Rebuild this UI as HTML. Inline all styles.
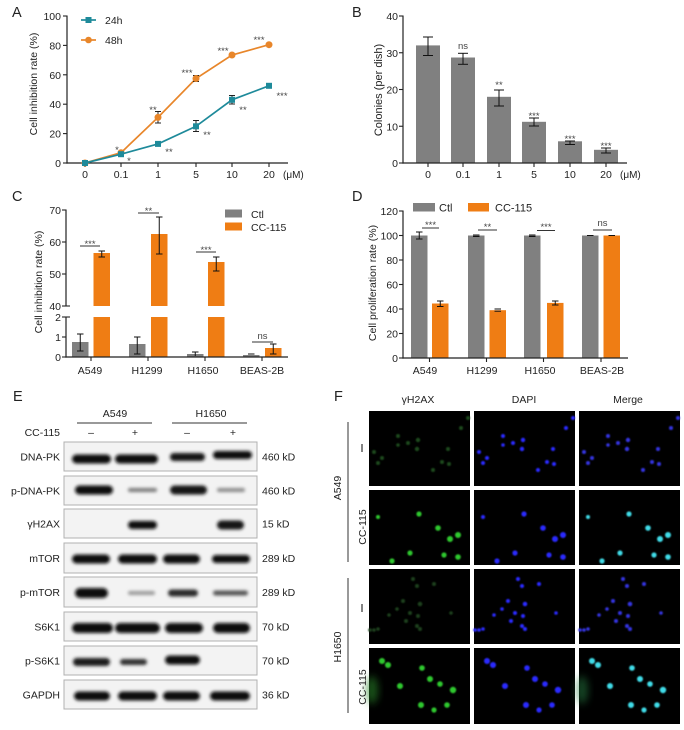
<!DOCTYPE html>
<html><head><meta charset="utf-8"><style>
html,body{margin:0;padding:0;background:#fff;}
svg{display:block;}
text{font-family:"Liberation Sans","DejaVu Sans",sans-serif;}
</style></head><body>
<svg width="684" height="730" viewBox="0 0 684 730" xmlns="http://www.w3.org/2000/svg">
<defs>
<filter id="bl" x="-20%" y="-80%" width="140%" height="260%"><feGaussianBlur stdDeviation="1.5"/></filter>
<filter id="db" x="-20%" y="-20%" width="140%" height="140%"><feGaussianBlur stdDeviation="0.9"/></filter>
<filter id="gl" x="-50%" y="-50%" width="200%" height="200%"><feGaussianBlur stdDeviation="4"/></filter>
<g id="g1"><circle cx="99" cy="7" r="2"/><circle cx="92" cy="17" r="2"/><circle cx="29" cy="25" r="2"/><circle cx="39" cy="32" r="2"/><circle cx="49" cy="29" r="2.2"/><circle cx="48" cy="38" r="2.2"/><circle cx="5" cy="41" r="2"/><circle cx="13" cy="47" r="2"/><circle cx="9" cy="52" r="2"/><circle cx="29" cy="34" r="1.8"/><circle cx="79" cy="38" r="2"/><circle cx="73" cy="51" r="2"/><circle cx="80" cy="53" r="2"/><circle cx="64" cy="59" r="2"/></g>
<g id="g2"><circle cx="9" cy="27" r="2"/><circle cx="50" cy="24" r="2.6"/><circle cx="69" cy="38" r="2.8"/><circle cx="89" cy="45" r="3"/><circle cx="81" cy="49" r="3"/><circle cx="41" cy="63" r="2.6"/><circle cx="75" cy="65" r="2.6"/><circle cx="89" cy="67" r="2.8"/><circle cx="23" cy="71" r="2.6"/></g>
<g id="g3"><circle cx="44" cy="10" r="2"/><circle cx="48" cy="17" r="2"/><circle cx="65" cy="15" r="2"/><circle cx="34" cy="32" r="2"/><circle cx="51" cy="35" r="2.3"/><circle cx="28" cy="40" r="1.8"/><circle cx="20" cy="46" r="1.8"/><circle cx="41" cy="44" r="2"/><circle cx="37" cy="52" r="2"/><circle cx="49" cy="47" r="2"/><circle cx="48" cy="57" r="2"/><circle cx="51" cy="60" r="2"/><circle cx="82" cy="44" r="1.8"/><circle cx="9" cy="60" r="1.8"/><circle cx="5" cy="61" r="1.8"/><circle cx="1" cy="61" r="1.8"/></g>
<g id="g4"><circle cx="13" cy="13" r="3"/><circle cx="19" cy="17" r="3"/><circle cx="53" cy="20" r="2.8"/><circle cx="31" cy="38" r="3"/><circle cx="61" cy="31" r="3"/><circle cx="71" cy="36" r="2.8"/><circle cx="84" cy="42" r="3.2"/><circle cx="52" cy="57" r="3"/><circle cx="65" cy="62" r="2.6"/><circle cx="78" cy="57" r="2.8"/></g>
</defs>

<!-- ============ PANEL A ============ -->
<g fill="#222" font-size="10.5">
<text x="12" y="17" font-size="14.5">A</text>
<line x1="67" y1="15.5" x2="67" y2="163.6" stroke="#222" stroke-width="1.2"/>
<line x1="66.4" y1="163" x2="288" y2="163" stroke="#222" stroke-width="1.2"/>
<g stroke="#222" stroke-width="1.1">
<line x1="63" y1="163" x2="67" y2="163"/><line x1="63" y1="133.6" x2="67" y2="133.6"/><line x1="63" y1="104.2" x2="67" y2="104.2"/><line x1="63" y1="74.8" x2="67" y2="74.8"/><line x1="63" y1="45.4" x2="67" y2="45.4"/><line x1="63" y1="16" x2="67" y2="16"/>
<line x1="85" y1="163" x2="85" y2="167"/><line x1="121" y1="163" x2="121" y2="167"/><line x1="158" y1="163" x2="158" y2="167"/><line x1="196" y1="163" x2="196" y2="167"/><line x1="232" y1="163" x2="232" y2="167"/><line x1="269" y1="163" x2="269" y2="167"/>
</g>
<g text-anchor="end"><text x="61" y="167">0</text><text x="61" y="137.6">20</text><text x="61" y="108.2">40</text><text x="61" y="78.8">60</text><text x="61" y="49.4">80</text><text x="61" y="20">100</text></g>
<g text-anchor="middle"><text x="85" y="178">0</text><text x="121" y="178">0.1</text><text x="158" y="178">1</text><text x="196" y="178">5</text><text x="232" y="178">10</text><text x="269" y="178">20</text></g>
<text x="283" y="178" font-size="10">(μM)</text>
<text transform="translate(37,84) rotate(-90)" text-anchor="middle">Cell inhibition rate (%)</text>
<!-- 48h -->
<polyline points="85,163 121,152.7 158,117.4 196,78.5 232,55 269,44.7" fill="none" stroke="#e8862a" stroke-width="1.7"/>
<g stroke="#222" stroke-width="1"><line x1="158" y1="111.5" x2="158" y2="123"/><line x1="155" y1="111.5" x2="161" y2="111.5"/><line x1="155" y1="123" x2="161" y2="123"/>
<line x1="196" y1="75.5" x2="196" y2="81.5"/><line x1="193" y1="75.5" x2="199" y2="75.5"/><line x1="193" y1="81.5" x2="199" y2="81.5"/></g>
<g fill="#e8862a"><circle cx="85" cy="163" r="3.5"/><circle cx="121" cy="152.7" r="3.5"/><circle cx="158" cy="117.4" r="3.5"/><circle cx="196" cy="78.5" r="3.5"/><circle cx="232" cy="55" r="3.5"/><circle cx="269" cy="44.7" r="3.5"/></g>
<!-- 24h -->
<polyline points="85,163 121,154.2 158,143.9 196,126.3 232,99.8 269,85.8" fill="none" stroke="#1e8a9a" stroke-width="1.7"/>
<g stroke="#222" stroke-width="1"><line x1="196" y1="120.5" x2="196" y2="131.5"/><line x1="193" y1="120.5" x2="199" y2="120.5"/><line x1="193" y1="131.5" x2="199" y2="131.5"/>
<line x1="232" y1="95.5" x2="232" y2="104"/><line x1="229" y1="95.5" x2="235" y2="95.5"/><line x1="229" y1="104" x2="235" y2="104"/></g>
<g fill="#1e8a9a"><rect x="82" y="160" width="6" height="6"/><rect x="118" y="151.2" width="6" height="6"/><rect x="155" y="140.9" width="6" height="6"/><rect x="193" y="123.3" width="6" height="6"/><rect x="229" y="96.8" width="6" height="6"/><rect x="266" y="82.8" width="6" height="6"/></g>
<!-- stars -->
<g fill="#444" font-size="9.5" text-anchor="middle">
<text x="117" y="153">*</text><text x="153" y="113">**</text><text x="187" y="76">***</text><text x="223" y="54">***</text><text x="259" y="43">***</text>
<text x="129" y="164">*</text><text x="169" y="155">**</text><text x="207" y="138">**</text><text x="243" y="113">**</text><text x="282" y="99">***</text>
</g>
<!-- legend -->
<line x1="81" y1="20" x2="96" y2="20" stroke="#1e8a9a" stroke-width="1.7"/><rect x="85.5" y="17" width="6" height="6" fill="#1e8a9a"/>
<text x="105" y="24">24h</text>
<line x1="81" y1="40" x2="96" y2="40" stroke="#e8862a" stroke-width="1.7"/><circle cx="88.5" cy="40" r="3.3" fill="#e8862a"/>
<text x="105" y="44">48h</text>
</g>

<!-- ============ PANEL B ============ -->
<g fill="#222" font-size="10.5">
<text x="352" y="17" font-size="14.5">B</text>
<g fill="#808080">
<rect x="416" y="45.4" width="24" height="117.6"/><rect x="451" y="57.5" width="24" height="105.5"/><rect x="487" y="96.8" width="24" height="66.2"/><rect x="522" y="121.8" width="24" height="41.2"/><rect x="558" y="141.3" width="24" height="21.7"/><rect x="594" y="149.8" width="24" height="13.2"/>
</g>
<line x1="403" y1="15.5" x2="403" y2="163.6" stroke="#222" stroke-width="1.2"/>
<line x1="402.4" y1="163" x2="627" y2="163" stroke="#222" stroke-width="1.2"/>
<g stroke="#222" stroke-width="1.1">
<line x1="399" y1="163" x2="403" y2="163"/><line x1="399" y1="126.25" x2="403" y2="126.25"/><line x1="399" y1="89.5" x2="403" y2="89.5"/><line x1="399" y1="52.75" x2="403" y2="52.75"/><line x1="399" y1="16" x2="403" y2="16"/>
<line x1="428" y1="163" x2="428" y2="167"/><line x1="463" y1="163" x2="463" y2="167"/><line x1="499" y1="163" x2="499" y2="167"/><line x1="534" y1="163" x2="534" y2="167"/><line x1="570" y1="163" x2="570" y2="167"/><line x1="606" y1="163" x2="606" y2="167"/>
</g>
<g stroke="#111" stroke-width="1">
<line x1="428" y1="37" x2="428" y2="55.5"/><line x1="423" y1="37" x2="433" y2="37"/><line x1="423" y1="55.5" x2="433" y2="55.5"/>
<line x1="463" y1="53.3" x2="463" y2="64.3"/><line x1="458" y1="53.3" x2="468" y2="53.3"/><line x1="458" y1="64.3" x2="468" y2="64.3"/>
<line x1="499" y1="90" x2="499" y2="106"/><line x1="494" y1="90" x2="504" y2="90"/><line x1="494" y1="106" x2="504" y2="106"/>
<line x1="534" y1="118" x2="534" y2="126"/><line x1="529" y1="118" x2="539" y2="118"/><line x1="529" y1="126" x2="539" y2="126"/>
<line x1="570" y1="141" x2="570" y2="144.5"/><line x1="565" y1="141" x2="575" y2="141"/><line x1="565" y1="144.5" x2="575" y2="144.5"/>
<line x1="606" y1="148" x2="606" y2="153"/><line x1="601" y1="148" x2="611" y2="148"/><line x1="601" y1="153" x2="611" y2="153"/>
</g>
<g text-anchor="end"><text x="398" y="167">0</text><text x="398" y="130.25">10</text><text x="398" y="93.5">20</text><text x="398" y="56.75">30</text><text x="398" y="20">40</text></g>
<g text-anchor="middle"><text x="428" y="178">0</text><text x="463" y="178">0.1</text><text x="499" y="178">1</text><text x="534" y="178">5</text><text x="570" y="178">10</text><text x="606" y="178">20</text></g>
<text x="620" y="178" font-size="10">(μM)</text>
<text transform="translate(382,90) rotate(-90)" text-anchor="middle" font-size="11">Colonies (per dish)</text>
<g fill="#444" font-size="9.5" text-anchor="middle">
<text x="463" y="49">ns</text><text x="499" y="88">**</text><text x="534" y="119">***</text><text x="570" y="142">***</text><text x="606" y="149">***</text>
</g>
</g>

<!-- ============ PANEL C ============ -->
<g fill="#222" font-size="10.5">
<text x="12" y="201" font-size="14.5">C</text>
<g fill="#808080">
<rect x="72" y="342" width="16.5" height="15"/><rect x="129" y="344" width="16.5" height="13"/><rect x="187" y="354" width="16.5" height="3"/><rect x="243" y="355" width="16.5" height="2"/>
</g>
<g fill="#ef7d14">
<rect x="93.5" y="317" width="16.5" height="40"/><rect x="93.5" y="253" width="16.5" height="53"/>
<rect x="151" y="317" width="16.5" height="40"/><rect x="151" y="234" width="16.5" height="72"/>
<rect x="208" y="317" width="16.5" height="40"/><rect x="208" y="262" width="16.5" height="44"/>
<rect x="265" y="348" width="16.5" height="9"/>
</g>
<line x1="66" y1="209.5" x2="66" y2="306" stroke="#222" stroke-width="1.2"/>
<line x1="66" y1="317" x2="66" y2="357.6" stroke="#222" stroke-width="1.2"/>
<line x1="65.4" y1="357" x2="288" y2="357" stroke="#222" stroke-width="1.2"/>
<g stroke="#222" stroke-width="1.1">
<line x1="62" y1="210" x2="66" y2="210"/><line x1="62" y1="242" x2="66" y2="242"/><line x1="62" y1="274" x2="66" y2="274"/><line x1="62" y1="306" x2="70" y2="306"/>
<line x1="62" y1="317" x2="70" y2="317"/><line x1="62" y1="337" x2="66" y2="337"/><line x1="62" y1="357" x2="66" y2="357"/>
<line x1="91" y1="357" x2="91" y2="361"/><line x1="148" y1="357" x2="148" y2="361"/><line x1="205" y1="357" x2="205" y2="361"/><line x1="262" y1="357" x2="262" y2="361"/>
</g>
<g stroke="#111" stroke-width="1">
<line x1="80.25" y1="334" x2="80.25" y2="351"/><line x1="77" y1="334" x2="83.5" y2="334"/><line x1="77" y1="351" x2="83.5" y2="351"/>
<line x1="101.75" y1="251" x2="101.75" y2="257"/><line x1="98.5" y1="251" x2="105" y2="251"/><line x1="98.5" y1="257" x2="105" y2="257"/>
<line x1="137.25" y1="337" x2="137.25" y2="354"/><line x1="134" y1="337" x2="140.5" y2="337"/><line x1="134" y1="354" x2="140.5" y2="354"/>
<line x1="159.25" y1="217" x2="159.25" y2="254"/><line x1="156" y1="217" x2="162.5" y2="217"/><line x1="156" y1="254" x2="162.5" y2="254"/>
<line x1="195.25" y1="352" x2="195.25" y2="356"/><line x1="192" y1="352" x2="198.5" y2="352"/>
<line x1="216.25" y1="257" x2="216.25" y2="271"/><line x1="213" y1="257" x2="219.5" y2="257"/><line x1="213" y1="271" x2="219.5" y2="271"/>
<line x1="248" y1="354" x2="254.5" y2="354"/>
<line x1="273.25" y1="344" x2="273.25" y2="354"/><line x1="270" y1="344" x2="276.5" y2="344"/><line x1="270" y1="354" x2="276.5" y2="354"/>
</g>
<g text-anchor="end"><text x="61" y="214">70</text><text x="61" y="246">60</text><text x="61" y="278">50</text><text x="61" y="310">40</text><text x="61" y="321">2</text><text x="61" y="341">1</text><text x="61" y="361">0</text></g>
<g text-anchor="middle"><text x="90" y="374">A549</text><text x="147" y="374">H1299</text><text x="203" y="374">H1650</text><text x="262" y="374">BEAS-2B</text></g>
<text transform="translate(42,282) rotate(-90)" text-anchor="middle">Cell inhibition rate (%)</text>
<g stroke="#333" stroke-width="0.9"><line x1="80" y1="246" x2="100" y2="246"/><line x1="138" y1="213" x2="159" y2="213"/><line x1="196" y1="252" x2="216" y2="252"/><line x1="252" y1="342" x2="273" y2="342"/></g>
<g fill="#444" font-size="9.5" text-anchor="middle"><text x="90" y="247">***</text><text x="148.5" y="214">**</text><text x="206" y="253">***</text><text x="262.5" y="339">ns</text></g>
<rect x="225" y="209.5" width="17" height="8" fill="#808080"/><text x="251" y="218">Ctl</text>
<rect x="225" y="222.5" width="17" height="8" fill="#ef7d14"/><text x="251" y="231">CC-115</text>
</g>

<!-- ============ PANEL D ============ -->
<g fill="#222" font-size="10.5">
<text x="352" y="201" font-size="14.5">D</text>
<g fill="#808080">
<rect x="411" y="235.5" width="16.5" height="122.5"/><rect x="468" y="235.5" width="16.5" height="122.5"/><rect x="524" y="235.5" width="16.5" height="122.5"/><rect x="582" y="235.5" width="16.5" height="122.5"/>
</g>
<g fill="#ef7d14">
<rect x="432" y="303.5" width="16.5" height="54.5"/><rect x="489.5" y="310.2" width="16.5" height="47.8"/><rect x="547" y="302.9" width="16.5" height="55.1"/><rect x="603.5" y="235.5" width="16.5" height="122.5"/>
</g>
<line x1="403" y1="210.5" x2="403" y2="358.6" stroke="#222" stroke-width="1.2"/>
<line x1="402.4" y1="358" x2="628" y2="358" stroke="#222" stroke-width="1.2"/>
<g stroke="#222" stroke-width="1.1">
<line x1="399" y1="358" x2="403" y2="358"/><line x1="399" y1="333.5" x2="403" y2="333.5"/><line x1="399" y1="309" x2="403" y2="309"/><line x1="399" y1="284.5" x2="403" y2="284.5"/><line x1="399" y1="260" x2="403" y2="260"/><line x1="399" y1="235.5" x2="403" y2="235.5"/><line x1="399" y1="211" x2="403" y2="211"/>
<line x1="429.5" y1="358" x2="429.5" y2="362"/><line x1="486.5" y1="358" x2="486.5" y2="362"/><line x1="543.5" y1="358" x2="543.5" y2="362"/><line x1="601" y1="358" x2="601" y2="362"/>
</g>
<g stroke="#111" stroke-width="1">
<line x1="419.25" y1="232" x2="419.25" y2="239"/><line x1="416" y1="232" x2="422.5" y2="232"/><line x1="416" y1="239" x2="422.5" y2="239"/>
<line x1="440.25" y1="301" x2="440.25" y2="306.5"/><line x1="437" y1="301" x2="443.5" y2="301"/><line x1="437" y1="306.5" x2="443.5" y2="306.5"/>
<line x1="473" y1="235" x2="479.5" y2="235"/><line x1="473" y1="236.5" x2="479.5" y2="236.5"/>
<line x1="494.5" y1="309" x2="501" y2="309"/><line x1="494.5" y1="311.2" x2="501" y2="311.2"/>
<line x1="529" y1="235" x2="535.5" y2="235"/><line x1="529" y1="236.5" x2="535.5" y2="236.5"/>
<line x1="555.25" y1="301" x2="555.25" y2="305"/><line x1="552" y1="301" x2="558.5" y2="301"/><line x1="552" y1="305" x2="558.5" y2="305"/>
<line x1="587" y1="235.5" x2="593.5" y2="235.5"/><line x1="608.5" y1="235.5" x2="615" y2="235.5"/>
</g>
<g text-anchor="end"><text x="398" y="362">0</text><text x="398" y="337.5">20</text><text x="398" y="313">40</text><text x="398" y="288.5">60</text><text x="398" y="264">80</text><text x="398" y="239.5">100</text><text x="398" y="215">120</text></g>
<g text-anchor="middle"><text x="425" y="374">A549</text><text x="482" y="374">H1299</text><text x="540" y="374">H1650</text><text x="602" y="374">BEAS-2B</text></g>
<text transform="translate(376,283) rotate(-90)" text-anchor="middle">Cell proliferation rate (%)</text>
<g stroke="#333" stroke-width="0.9"><line x1="422" y1="228" x2="439" y2="228"/><line x1="478" y1="230" x2="497" y2="230"/><line x1="537" y1="230.5" x2="555" y2="230.5"/><line x1="593" y1="230" x2="612" y2="230"/></g>
<g fill="#444" font-size="9.5" text-anchor="middle"><text x="430.5" y="228">***</text><text x="487.5" y="230">**</text><text x="546" y="230">***</text><text x="602.5" y="226">ns</text></g>
<rect x="413" y="203" width="22" height="8.5" fill="#808080"/><text x="439" y="211.5" font-size="11">Ctl</text>
<rect x="468" y="203" width="21" height="8.5" fill="#ef7d14"/><text x="495" y="211.5" font-size="11">CC-115</text>
</g>

<!-- ============ PANEL E ============ -->
<g fill="#222" font-size="10.5">
<text x="13" y="401" font-size="14.5">E</text>
<text x="115" y="417" text-anchor="middle">A549</text>
<text x="211" y="417" text-anchor="middle">H1650</text>
<line x1="77" y1="423" x2="152" y2="423" stroke="#333" stroke-width="1"/>
<line x1="172" y1="423" x2="247" y2="423" stroke="#333" stroke-width="1"/>
<text x="60" y="436" text-anchor="end">CC-115</text>
<g text-anchor="middle"><text x="91" y="436">–</text><text x="135" y="436">+</text><text x="187" y="436">–</text><text x="233" y="436">+</text></g>
<g fill="#f3f3f3" stroke="#b0b0b0" stroke-width="1">
<rect x="64" y="442" width="193" height="29"/><rect x="64" y="476" width="193" height="29"/><rect x="64" y="509" width="193" height="29"/><rect x="64" y="543" width="193" height="30"/>
<rect x="64" y="577" width="193" height="30"/><rect x="64" y="612" width="193" height="29"/><rect x="64" y="646" width="193" height="29"/><rect x="64" y="680" width="193" height="29"/>
</g>
<g filter="url(#bl)">
<rect x="72" y="454.5" width="39" height="9" rx="4.5" fill="#111"/><rect x="115" y="454.5" width="43" height="9" rx="4.5" fill="#111"/><rect x="170" y="453" width="35" height="8" rx="4" fill="#151515"/><rect x="213" y="451" width="39" height="8" rx="4" fill="#111"/>
<rect x="75" y="485.5" width="38" height="9" rx="4.5" fill="#111"/><rect x="128" y="488" width="29" height="4" rx="2" fill="#7a7a7a"/><rect x="170" y="485.5" width="37" height="9" rx="4.5" fill="#151515"/><rect x="217" y="488" width="28" height="4" rx="2" fill="#8a8a8a"/>
<rect x="128" y="521" width="29" height="8" rx="4" fill="#111"/><rect x="217" y="520.5" width="27" height="9" rx="4.5" fill="#151515"/>
<rect x="72" y="554.5" width="38" height="9" rx="4.5" fill="#111"/><rect x="118" y="554.5" width="39" height="9" rx="4.5" fill="#111"/><rect x="163" y="554.5" width="37" height="9" rx="4.5" fill="#111"/><rect x="212" y="555" width="38" height="8" rx="4" fill="#111"/>
<rect x="75" y="588" width="33" height="10" rx="5" fill="#111"/><rect x="128" y="591" width="27" height="4" rx="2" fill="#9a9a9a"/><rect x="168" y="589.5" width="30" height="7" rx="3.5" fill="#2a2a2a"/><rect x="213" y="590.5" width="35" height="5" rx="2.5" fill="#555"/>
<rect x="72" y="623" width="41" height="10" rx="5" fill="#111"/><rect x="115" y="623" width="45" height="10" rx="5" fill="#111"/><rect x="165" y="623" width="38" height="10" rx="5" fill="#111"/><rect x="213" y="623" width="37" height="10" rx="5" fill="#111"/>
<rect x="73" y="658" width="37" height="8" rx="4" fill="#1a1a1a"/><rect x="120" y="659" width="27" height="6" rx="3" fill="#333"/><rect x="165" y="655.5" width="35" height="9" rx="4.5" fill="#111"/>
<rect x="74" y="691.5" width="36" height="9" rx="4.5" fill="#111"/><rect x="118" y="691.5" width="39" height="9" rx="4.5" fill="#111"/><rect x="163" y="691.5" width="37" height="9" rx="4.5" fill="#111"/><rect x="210" y="691.5" width="40" height="9" rx="4.5" fill="#111"/>
</g>
<g text-anchor="end">
<text x="60" y="460.5">DNA-PK</text><text x="60" y="494.5">p-DNA-PK</text><text x="60" y="527.5">γH2AX</text><text x="60" y="562">mTOR</text>
<text x="60" y="596">p-mTOR</text><text x="60" y="630.5">S6K1</text><text x="60" y="664.5">p-S6K1</text><text x="60" y="698.5">GAPDH</text>
</g>
<g>
<text x="262" y="460.5">460 kD</text><text x="262" y="494.5">460 kD</text><text x="262" y="527.5">15 kD</text><text x="262" y="562">289 kD</text>
<text x="262" y="596">289 kD</text><text x="262" y="630.5">70 kD</text><text x="262" y="664.5">70 kD</text><text x="262" y="698.5">36 kD</text>
</g>
</g>

<!-- ============ PANEL F ============ -->
<g fill="#222" font-size="10.5">
<text x="334" y="401" font-size="14.5">F</text>
<g text-anchor="middle"><text x="418" y="403">γH2AX</text><text x="524" y="403">DAPI</text><text x="628" y="403">Merge</text></g>
<g fill="#000">
<rect x="369" y="411" width="101" height="75"/><rect x="474" y="411" width="101" height="75"/><rect x="579" y="411" width="101" height="75"/>
<rect x="369" y="490" width="101" height="75"/><rect x="474" y="490" width="101" height="75"/><rect x="579" y="490" width="101" height="75"/>
<rect x="369" y="569" width="101" height="75"/><rect x="474" y="569" width="101" height="75"/><rect x="579" y="569" width="101" height="75"/>
<rect x="369" y="648" width="101" height="76"/><rect x="474" y="648" width="101" height="76"/><rect x="579" y="648" width="101" height="76"/>
</g>
<use href="#g1" transform="translate(369,411)" fill="#1d4a1d" filter="url(#db)"/>
<use href="#g1" transform="translate(474,411)" fill="#2a2aff" filter="url(#db)"/>
<use href="#g1" transform="translate(579,411)" fill="#3535e0" filter="url(#db)"/>
<use href="#g2" transform="translate(369,490)" fill="#2ec82e" filter="url(#db)"/>
<use href="#g2" transform="translate(474,490)" fill="#2a2aff" filter="url(#db)"/>
<use href="#g2" transform="translate(579,490)" fill="#3fdce8" filter="url(#db)"/>
<use href="#g3" transform="translate(369,569)" fill="#1a3f1a" filter="url(#db)"/>
<use href="#g3" transform="translate(474,569)" fill="#2a2aff" filter="url(#db)"/>
<use href="#g3" transform="translate(579,569)" fill="#3535e0" filter="url(#db)"/>
<ellipse cx="372" cy="690" rx="6" ry="14" fill="#2a8a2a" opacity="0.6" filter="url(#gl)"/>
<ellipse cx="582" cy="690" rx="6" ry="14" fill="#2a8a4a" opacity="0.5" filter="url(#gl)"/>
<use href="#g4" transform="translate(369,648)" fill="#2ec82e" filter="url(#db)"/>
<use href="#g4" transform="translate(474,648)" fill="#2a2aff" filter="url(#db)"/>
<use href="#g4" transform="translate(579,648)" fill="#3fdce8" filter="url(#db)"/>
<line x1="348" y1="422" x2="348" y2="562" stroke="#333" stroke-width="1"/>
<line x1="348" y1="578" x2="348" y2="713" stroke="#333" stroke-width="1"/>
<line x1="362" y1="444" x2="362" y2="452" stroke="#333" stroke-width="1.2"/>
<line x1="362" y1="604" x2="362" y2="612" stroke="#333" stroke-width="1.2"/>
<text transform="translate(341,488) rotate(-90)" text-anchor="middle">A549</text>
<text transform="translate(341,647) rotate(-90)" text-anchor="middle">H1650</text>
<text transform="translate(366,527) rotate(-90)" text-anchor="middle">CC-115</text>
<text transform="translate(366,687) rotate(-90)" text-anchor="middle">CC-115</text>
</g>
</svg>
</body></html>
